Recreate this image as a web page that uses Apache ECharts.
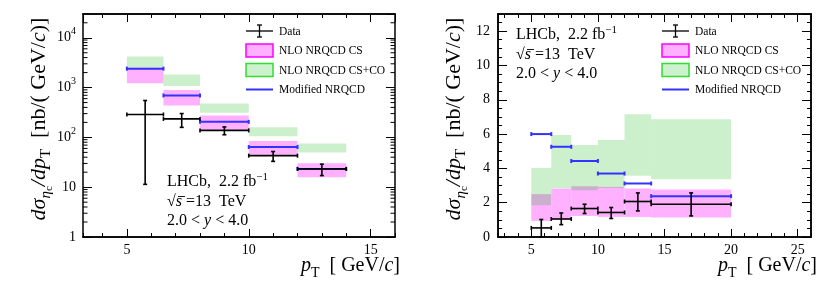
<!DOCTYPE html>
<html><head><meta charset="utf-8">
<script src="https://cdn.jsdelivr.net/npm/echarts@6/dist/echarts.min.js"></script>
<style>html,body{margin:0;padding:0;background:#fff}#c{width:831px;height:282px}</style>
</head><body><div id="c"></div><script>
// ---------- Left panel (log scale) ----------
const L_binLo = [5, 6.5, 8, 10, 12];
const L_binHi = [6.5, 8, 10, 12, 14];
const L_dataX = [5.75, 7.25, 9, 11, 13];
const L_dataY = [288, 235, 138, 43, 23.3];
const L_dataErrLo = [11.4, 159, 113, 33, 17.1];
const L_dataErrHi = [550, 301, 162, 52, 29];
const L_csLo = [1216, 437, 143, 45, 15.8];
const L_csHi = [2520, 890, 274, 85, 30.4];
const L_coLo = [2520, 1075, 311, 105, 50];
const L_coHi = [4210, 1820, 479, 159, 75];
const L_mod = [2400, 695, 205, 64, 23.3];
const L_yTicks = [1, 10, 100, 1000, 10000];
const L_yTickText = ['{m|1}', '{m|10}', '{m|10}{s|2}', '{m|10}{s|3}', '{m|10}{s|4}'];
const L_yMinorTicks = [2, 3, 4, 5, 6, 7, 8, 9, 20, 30, 40, 50, 60, 70, 80, 90,
  200, 300, 400, 500, 600, 700, 800, 900, 2000, 3000, 4000, 5000, 6000, 7000, 8000, 9000, 20000];
const L_xTicks = [5, 10, 15];

// ---------- Right panel (linear scale) ----------
const R_binLo = [5, 6.5, 8, 10, 12, 14];
const R_binHi = [6.5, 8, 10, 12, 14, 20];
const R_dataX = [5.75, 7.25, 9, 11, 13, 17];
const R_dataY = [0.53, 1.05, 1.66, 1.43, 2.07, 1.91];
const R_dataErrLo = [0.0, 0.72, 1.37, 1.08, 1.52, 1.23];
const R_dataErrHi = [1.02, 1.4, 1.91, 1.72, 2.57, 2.57];
const R_csLo = [0.94, 1.03, 1.23, 1.17, 1.17, 1.13];
const R_csHi = [2.5, 2.83, 2.96, 2.92, 2.83, 2.77];
const R_coLo = [1.85, 2.85, 2.73, 2.85, 3.57, 3.36];
const R_coHi = [4.03, 5.95, 5.36, 5.65, 7.16, 6.87];
const R_mod = [6.0, 5.26, 4.43, 3.7, 3.12, 2.38];
const R_yTicks = [0, 2, 4, 6, 8, 10, 12];
const R_xTicks = [5, 10, 15, 20, 25];

const seriesNames = ['Data', 'NLO NRQCD CS', 'NLO NRQCD CS+CO', 'Modified NRQCD'];

const SERIF = '"Liberation Serif", "DejaVu Serif", serif';
const C_CS = '#ffb0ff', C_CS_B = '#ff00ff';
const C_CO = 'rgba(0,175,0,0.2)', C_CO_LEG = '#cdf0cd', C_CO_B = '#33dd33';
const C_MOD = '#3333ff';

function xAx(g, min, max, step, len, pos, labels, ticks) {
  return {
    type: 'value', gridIndex: g, min: min, max: max, minInterval: step, maxInterval: step,
    position: pos,
    axisLine: { show: true, onZero: false, lineStyle: { color: '#000', width: 1.5 } },
    axisTick: { show: true, inside: true, length: len, lineStyle: { color: '#000', width: 1 } },
    axisLabel: {
      show: labels, showMinLabel: false, showMaxLabel: false, margin: 6,
      color: '#000', fontFamily: SERIF, fontSize: 14,
      formatter: v => (ticks && ticks.indexOf(v) >= 0 ? String(v) : '')
    },
    splitLine: { show: false }
  };
}
function yLin(g, min, max, step, len, pos, labels, ticks) {
  return {
    type: 'value', gridIndex: g, min: min, max: max, interval: step, position: pos,
    axisLine: { show: true, onZero: false, lineStyle: { color: '#000', width: 1.5 } },
    axisTick: { show: true, inside: true, length: len, lineStyle: { color: '#000', width: 1 } },
    axisLabel: {
      show: labels, showMaxLabel: false, margin: 8,
      color: '#000', fontFamily: SERIF, fontSize: 14,
      formatter: v => (ticks && ticks.indexOf(v) >= 0 ? String(v) : '')
    },
    splitLine: { show: false }
  };
}
function yLog(g, pos, labels) {
  return {
    type: 'log', logBase: 10, gridIndex: g, min: 1, max: 30000, position: pos,
    axisLine: { show: true, onZero: false, lineStyle: { color: '#000', width: 1.5 } },
    axisTick: { show: true, inside: true, length: 9, lineStyle: { color: '#000', width: 1 } },
    axisLabel: {
      show: labels, showMaxLabel: false, margin: 7, color: '#000', fontFamily: SERIF,
      formatter: v => { const i = L_yTicks.indexOf(Math.round(v)); return i >= 0 ? L_yTickText[i] : ''; },
      rich: {
        m: { fontSize: 14, lineHeight: 14, fontFamily: SERIF, color: '#000', padding: [5, 0, 0, 0], verticalAlign: 'bottom' },
        s: { fontSize: 10, lineHeight: 10, fontFamily: SERIF, color: '#000', padding: [0, 0, 8, 0], verticalAlign: 'bottom' }
      }
    },
    splitLine: { show: false }
  };
}

const xAxes = [
  xAx(0, 3.2, 16, 5, 8, 'bottom', true, L_xTicks),   // 0
  xAx(0, 3.2, 16, 1, 4, 'bottom', false),            // 1
  xAx(0, 3.2, 16, 5, 8, 'top', false),               // 2
  xAx(0, 3.2, 16, 1, 4, 'top', false),               // 3
  xAx(1, 2.5, 26, 5, 8, 'bottom', true, R_xTicks),   // 4
  xAx(1, 2.5, 26, 1, 4, 'bottom', false),            // 5
  xAx(1, 2.5, 26, 5, 8, 'top', false),               // 6
  xAx(1, 2.5, 26, 1, 4, 'top', false)                // 7
];
const yAxes = [
  yLog(0, 'left', true),                              // 0
  yLog(0, 'right', false),                            // 1
  yLin(1, 0, 13, 2, 9, 'left', true, R_yTicks),       // 2
  yLin(1, 0, 13, 0.5, 4, 'left', false),              // 3
  yLin(1, 0, 13, 2, 9, 'right', false),               // 4
  yLin(1, 0, 13, 0.5, 4, 'right', false)              // 5
];

function bandData(lo, hi, ylo, yhi) { return lo.map((v, i) => [v, hi[i], ylo[i], yhi[i]]); }
function modData(lo, hi, y) { return lo.map((v, i) => [v, hi[i], y[i]]); }
function ptData(x, y, lo, hi, elo, ehi) { return x.map((v, i) => [v, y[i], lo[i], hi[i], elo[i], ehi[i]]); }

function bandSeries(name, xi, yi, data, fill) {
  return {
    type: 'custom', name: name, xAxisIndex: xi, yAxisIndex: yi, data: data, silent: true,
    encode: { x: [0, 1], y: [2, 3] },
    renderItem: (params, api) => {
      const p0 = api.coord([api.value(0), api.value(3)]);
      const p1 = api.coord([api.value(1), api.value(2)]);
      return { type: 'rect', shape: { x: p0[0], y: p0[1], width: p1[0] - p0[0], height: p1[1] - p0[1] }, style: { fill: fill } };
    }
  };
}
function modSeries(name, xi, yi, data) {
  return {
    type: 'custom', name: name, xAxisIndex: xi, yAxisIndex: yi, data: data, silent: true,
    encode: { x: [0, 1], y: 2 },
    renderItem: (params, api) => {
      const a = api.coord([api.value(0), api.value(2)]);
      const b = api.coord([api.value(1), api.value(2)]);
      const st = { stroke: C_MOD, lineWidth: 2 };
      return { type: 'group', children: [
        { type: 'line', shape: { x1: a[0], y1: a[1], x2: b[0], y2: b[1] }, style: st },
        { type: 'line', shape: { x1: a[0], y1: a[1] - 2, x2: a[0], y2: a[1] + 2 }, style: st },
        { type: 'line', shape: { x1: b[0], y1: b[1] - 2, x2: b[0], y2: b[1] + 2 }, style: st }
      ] };
    }
  };
}
function ptSeries(name, xi, yi, data) {
  return {
    type: 'custom', name: name, xAxisIndex: xi, yAxisIndex: yi, data: data, silent: true,
    encode: { x: [0, 2, 3], y: [1, 4, 5] },
    renderItem: (params, api) => {
      const x = api.value(0), y = api.value(1);
      const l = api.coord([api.value(2), y]);
      const r = api.coord([api.value(3), y]);
      const t = api.coord([x, api.value(5)]);
      const b = api.coord([x, api.value(4)]);
      const st = { stroke: '#000', lineWidth: 1.6 };
      return { type: 'group', children: [
        { type: 'line', shape: { x1: l[0], y1: l[1], x2: r[0], y2: r[1] }, style: st },
        { type: 'line', shape: { x1: t[0], y1: t[1], x2: b[0], y2: b[1] }, style: st },
        { type: 'line', shape: { x1: l[0], y1: l[1] - 2, x2: l[0], y2: l[1] + 2 }, style: st },
        { type: 'line', shape: { x1: r[0], y1: r[1] - 2, x2: r[0], y2: r[1] + 2 }, style: st },
        { type: 'line', shape: { x1: t[0] - 2, y1: t[1], x2: t[0] + 2, y2: t[1] }, style: st },
        { type: 'line', shape: { x1: b[0] - 2, y1: b[1], x2: b[0] + 2, y2: b[1] }, style: st }
      ] };
    }
  };
}
// minor ticks of the log axis (left and right frame sides), placed through the log scale
function logMinorSeries() {
  return {
    type: 'custom', name: 'logMinorTicks', xAxisIndex: 0, yAxisIndex: 0, silent: true,
    data: L_yMinorTicks.map(v => [L_xTicks[0], v]),
    encode: { y: 1 },
    renderItem: (params, api) => {
      const cs = params.coordSys;
      const y = api.coord([api.value(0), api.value(1)])[1];
      const st = { stroke: '#000', lineWidth: 1 };
      return { type: 'group', children: [
        { type: 'line', shape: { x1: cs.x, y1: y, x2: cs.x + 4.5, y2: y }, style: st },
        { type: 'line', shape: { x1: cs.x + cs.width, y1: y, x2: cs.x + cs.width - 4.5, y2: y }, style: st }
      ] };
    }
  };
}

const series = [
  bandSeries(seriesNames[1], 0, 0, bandData(L_binLo, L_binHi, L_csLo, L_csHi), C_CS),
  bandSeries(seriesNames[2], 0, 0, bandData(L_binLo, L_binHi, L_coLo, L_coHi), C_CO),
  modSeries(seriesNames[3], 0, 0, modData(L_binLo, L_binHi, L_mod)),
  ptSeries(seriesNames[0], 0, 0, ptData(L_dataX, L_dataY, L_binLo, L_binHi, L_dataErrLo, L_dataErrHi)),
  logMinorSeries(),
  bandSeries(seriesNames[1], 4, 2, bandData(R_binLo, R_binHi, R_csLo, R_csHi), C_CS),
  bandSeries(seriesNames[2], 4, 2, bandData(R_binLo, R_binHi, R_coLo, R_coHi), C_CO),
  modSeries(seriesNames[3], 4, 2, modData(R_binLo, R_binHi, R_mod)),
  ptSeries(seriesNames[0], 4, 2, ptData(R_dataX, R_dataY, R_binLo, R_binHi, R_dataErrLo, R_dataErrHi))
];

// ---------- Legend, annotations, titles (graphic) ----------
function legend(x0, y0) {
  const w = 27, tx = x0 + 33, dy = 19.5;
  const ys = [y0, y0 + dy, y0 + 2 * dy, y0 + 3 * dy];
  const st = { stroke: '#000', lineWidth: 1.3 };
  const cx = x0 + w / 2;
  const els = [
    { type: 'line', shape: { x1: x0, y1: ys[0], x2: x0 + w, y2: ys[0] }, style: st },
    { type: 'line', shape: { x1: cx, y1: ys[0] - 6, x2: cx, y2: ys[0] + 6 }, style: st },
    { type: 'line', shape: { x1: cx - 2.5, y1: ys[0] - 6, x2: cx + 2.5, y2: ys[0] - 6 }, style: st },
    { type: 'line', shape: { x1: cx - 2.5, y1: ys[0] + 6, x2: cx + 2.5, y2: ys[0] + 6 }, style: st },
    { type: 'rect', shape: { x: x0, y: ys[1] - 6.5, width: w, height: 13 }, style: { fill: C_CS, stroke: C_CS_B, lineWidth: 1.5 } },
    { type: 'rect', shape: { x: x0, y: ys[2] - 6.5, width: w, height: 13 }, style: { fill: C_CO_LEG, stroke: C_CO_B, lineWidth: 1.5 } },
    { type: 'line', shape: { x1: x0, y1: ys[3], x2: x0 + w, y2: ys[3] }, style: { stroke: C_MOD, lineWidth: 2 } }
  ];
  seriesNames.forEach((n, i) => els.push({
    type: 'text', x: tx, y: ys[i] + 0.5,
    style: { text: n, fill: '#000', font: '11.5px ' + SERIF, align: 'left', verticalAlign: 'middle' }
  }));
  return els;
}
const richMain = (fs) => ({
  r: { fontSize: fs, fontFamily: SERIF, fill: '#000', lineHeight: fs + 2, padding: [0, 0, 5, 0], verticalAlign: 'bottom' },
  i: { fontSize: fs, fontFamily: SERIF, fontStyle: 'italic', fill: '#000', lineHeight: fs + 2, padding: [0, 0, 5, 0], verticalAlign: 'bottom' },
  sub: { fontSize: Math.round(fs * 0.68), fontFamily: SERIF, fontStyle: 'italic', fill: '#000', lineHeight: Math.round(fs * 0.7), padding: [0, 0, 1, 0], verticalAlign: 'bottom' },
  subr: { fontSize: Math.round(fs * 0.68), fontFamily: SERIF, fill: '#000', lineHeight: Math.round(fs * 0.7), padding: [0, 0, 1, 0], verticalAlign: 'bottom' },
  ss: { fontSize: Math.round(fs * 0.5), fontFamily: SERIF, fill: '#000', lineHeight: Math.round(fs * 0.5), padding: [0, 0, 0, 0], verticalAlign: 'bottom' },
  sup: { fontSize: Math.round(fs * 0.68), fontFamily: SERIF, fill: '#000', lineHeight: Math.round(fs * 0.7), padding: [0, 0, Math.round(fs * 0.75), 0], verticalAlign: 'bottom' }
});
function annot(x, y) {
  const rich = richMain(16);
  const lines = ['{r|LHCb,  2.2 fb}{sup|\u22121}', '{r|\u221A}{i|s}{r| =13  TeV}', '{r|2.0 < }{i|y}{r| < 4.0}'];
  const els = lines.map((t, k) => ({
    type: 'text', x: x, y: y + k * 19.5,
    style: { text: t, rich: rich, align: 'left', verticalAlign: 'middle', fill: '#000' }
  }));
  // overline of the square root
  els.push({ type: 'line', shape: { x1: x + 11, y1: y + 19.5 - 9, x2: x + 18, y2: y + 19.5 - 9 }, style: { stroke: '#000', lineWidth: 0.9 } });
  return els;
}
function yTitle(x, y) {
  return {
    type: 'text', x: x, y: y, rotation: Math.PI / 2,
    style: {
      text: '{i|d\u03C3}{sub|\u03B7}{ss|c}{i|/dp}{subr|T}{r|  [nb/( GeV/}{i|c}{r|)]}',
      rich: richMain(22), align: 'center', verticalAlign: 'middle', fill: '#000'
    }
  };
}
function xTitle(x, y) {
  return {
    type: 'text', x: x, y: y,
    style: {
      text: '{i|p}{subr|T}{r|  [ GeV/}{i|c}{r|]}',
      rich: richMain(20), align: 'right', verticalAlign: 'middle', fill: '#000'
    }
  };
}

const graphic = [].concat(
  legend(246, 31), legend(662, 31),
  annot(167, 186), annot(516, 39),
  [yTitle(43, 119), yTitle(458, 119), xTitle(400, 270), xTitle(817, 270)]
);

const chart = echarts.init(document.getElementById('c'), null, { renderer: 'canvas' });
chart.setOption({
  animation: false,
  backgroundColor: '#fff',
  grid: [
    { left: 83, top: 14, width: 312, height: 223 },
    { left: 498, top: 14, width: 313, height: 223 }
  ],
  xAxis: xAxes,
  yAxis: yAxes,
  series: series,
  graphic: graphic
});
</script></body></html>
